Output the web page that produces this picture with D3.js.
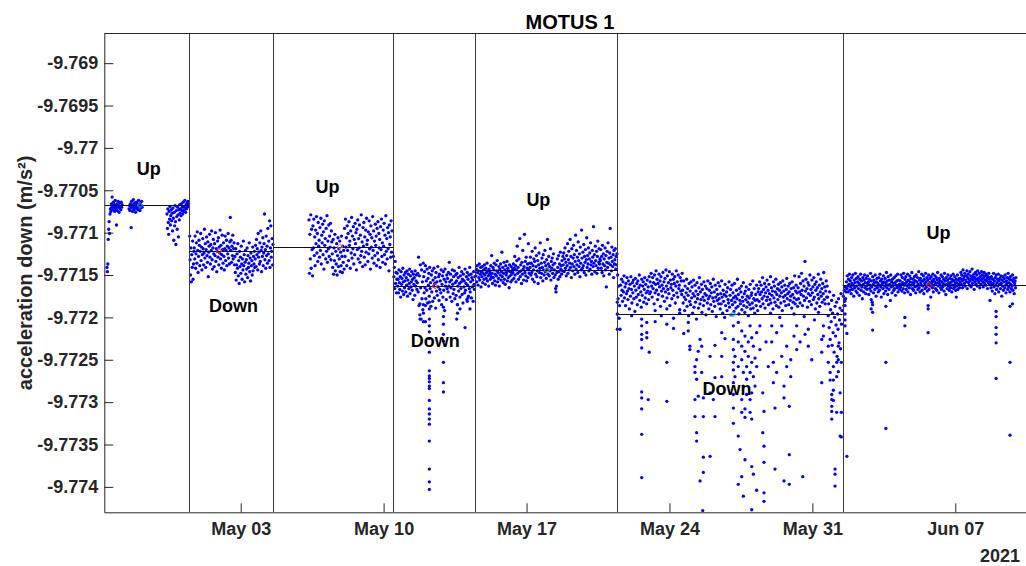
<!DOCTYPE html>
<html><head><meta charset="utf-8">
<script src="https://cdn.jsdelivr.net/npm/d3@7"></script>
<style>
body{margin:0;background:#fff;}
svg{display:block;font-family:"Liberation Sans",Arial,Helvetica,sans-serif;}
</style>
</head><body>
<svg id="c" width="1026" height="566"></svg>
<script>
// ---------------- DATA ----------------
// time in days relative to 2021-05-01 00:00 UTC; values stored as n = offset below -9.77 in 1e-5 m/s^2
const chartTitle = "MOTUS 1";
const yAxisLabel = "acceleration down (m/s\u00B2)";
const yearLabel = "2021";
const xLimitDays = [-4.681, 40.463];
const yLimits = [-9.7743, -9.76865];
const yTicks = [-9.769, -9.7695, -9.77, -9.7705, -9.771, -9.7715, -9.772, -9.7725, -9.773, -9.7735, -9.774];
const yTickLabels = ["-9.769", "-9.7695", "-9.77", "-9.7705", "-9.771", "-9.7715", "-9.772", "-9.7725", "-9.773", "-9.7735", "-9.774"];
const xTickDates = ["2021-05-03", "2021-05-10", "2021-05-17", "2021-05-24", "2021-05-31", "2021-06-07"];

// segment boundaries (days) and orientation labels
const segBounds = [-4.681, -0.518, 3.597, 9.474, 13.476, 20.445, 31.485, 40.463];
const segLabels = ["Up", "Down", "Up", "Down", "Up", "Down", "Up"];
const segLabelDays = [-2.506, 1.646, 6.252, 11.53, 16.58, 25.82, 36.18];
const segLabelN = [32.2, 194, 53, 235.4, 69, 291, 108];
const segMeanN = [67.7, 121.6, 116.4, 163, 144.4, 196.4, 162.1];
const meanMarkerDays = [-2.93, 0.94, 6.86, 11.52, 17.0, 26.11, 35.71];
const meanMarkerColors = ["#22aadd", "#dd3333", "#cc8833", "#dd3333", "#55aa22", "#22aadd", "#dd3333"];

// continuous runs: [startDay, endDay]
const runSpans = [[-4.55, -3.81], [-3.47, -2.83], [-1.61, -0.55], [-0.50, 3.58], [5.345, 9.41], [9.48, 13.47], [13.52, 20.43], [20.46, 31.45], [31.52, 39.97]];

const seg1a = [141,146,137,108,96,87,101,78,72,75,66,70,58,68,73,64,71,67,75,62,69,72,91,66,74,70,63,68,76,65,71,69,73,64,70,67];
const seg1b = [72,68,74,66,70,94,63,71,75,67,61,69,73,65,70,76,68,64,71,66,73,69,62,70,67,74,65,71,68,63,70];
const seg1c = [78,95,72,88,102,75,84,69,91,80,73,86,77,98,71,83,109,76,92,68,87,114,74,81,96,70,79,105,73,85,67,77,72,80,66,74,70,78,64,75,69,73,62,71,76,67,72,65,70,63,68,66];
const seg2 = [104,132,150,118,158,126,141,110,155,137,122,
118,131,104,142,125,112,136,99,121,147,128,109,115,139,122,101,133,117,144,126,107,119,138,124,96,130,113,141,120,105,127,135,111,152,123,116,102,129,137,114,121,98,132,143,118,108,125,140,113,127,100,134,119,146,122,110,129,106,138,117,124,97,131,115,142,126,103,120,136,112,128,144,119,104,133,121,109,139,116,125,101,130,118,137,111,
82,121,109,135,116,127,103,131,119,112,138,
128,147,119,156,138,125,142,113,151,133,160,122,140,129,148,116,137,155,131,144,110,139,126,158,135,121,149,132,143,118,153,127,141,136,112,146,130,157,124,139,133,150,117,145,128,137,122,141,
131,115,140,108,126,119,144,101,129,123,137,112,134,98,121,146,117,128,106,139,124,113,78,132,120,142,104,127,116,136,95,125,110,133,86,141,118,92,129,122,107,138,114];
const seg3 = [85,148,102,131,79,142,96,120,151,
92,118,84,127,105,139,97,113,81,124,101,134,88,116,109,129,94,121,83,137,103,112,90,126,99,143,86,115,107,131,95,122,80,135,110,119,91,128,104,117,89,132,98,111,
125,141,108,149,118,133,102,145,122,137,113,150,127,106,140,119,131,110,146,123,139,104,128,147,116,135,121,143,
95,128,84,117,106,139,92,121,101,133,87,115,110,142,98,124,82,130,104,119,93,137,108,126,89,113,100,144,96,120,85,131,107,118,91,135,103,127,79,122,111,140,94,116,88,129,105,138,97,123,83,114,109,134,99,125,86,119,102,143,92,117,106,130,81,121,98,136,110,127,90,115,104,139,95,124,87,132,101,118,108,141,93,120,84,128,112,135,97,116,89,126,103,137,80,122,107,131,94,119,100,145,91,114,105,129,86,123,98];
const seg4 = [128,152,141,166,134,160,147,171,155,
148,163,155,171,144,159,167,152,176,146,161,154,169,142,158,173,150,165,157,147,170,153,162,145,175,156,149,166,160,143,172,151,164,158,146,168,155,179,149,161,153,174,145,163,157,150,167,159,148,170,
129,186,151,197,138,165,202,144,178,158,191,136,
152,171,146,165,139,178,157,168,143,183,154,162,148,175,141,166,159,187,150,170,145,181,156,163,142,177,160,153,189,147,169,158,174,140,164,152,180,149,167,157,171,144,185,161,151,176,146,168,155,192,143,163,158,179,150,166,
154,170,147,163,135,158,176,149,165,156,181,144,161,172,152,167,145,178,159,150,174,157,148,185,163,153,169,141,160,176,151,166,158,146,173,155,183,149,164,157,171,143,168,160,152,179,147,162,155,175,150,166,141,170,158,149,177,153,164,156,181,146,161,167,152];
const seg5 = [151,143,158,139,147,162,145,153,137,156,149,141,164,146,152,140,159,148,144,155,138,150,161,142,154,147,136,157,145,151,163,143,149,
146,155,139,152,127,148,160,141,153,144,136,157,149,162,138,151,145,133,158,147,154,140,163,143,150,137,156,146,123,152,141,159,148,135,155,144,161,139,150,147,134,157,142,153,145,165,138,151,146,158,140,149,156,143,
147,137,154,142,128,150,139,158,144,133,116,148,141,155,131,146,107,152,138,145,160,135,149,121,143,156,140,102,147,134,151,129,157,142,137,153,113,144,148,136,
141,129,150,136,147,122,155,139,144,131,158,134,118,149,140,127,152,145,133,160,138,124,147,142,112,153,136,148,130,141,157,126,144,150,135,121,146,139,154,132,143,108,149,137,128,151,140,145,119,156,134,142,130,148,138,125,153,144,136,150,166,170,163,147,131,141,155,127,146,137,152,123,143,139,149,133,145,128,
138,124,146,131,118,142,135,151,127,139,113,148,132,122,144,136,108,141,128,153,119,137,145,130,115,140,126,149,134,103,143,121,138,129,147,111,133,140,125,152,117,136,144,97,130,142,123,139,114,147,128,135,120,150,132,106,141,127,137,118,145,131,124,143,112,138,134,149,121,129,140,93,136,126,146,116,133,139,122,148,128,110,142,135,119,137,131,
133,120,142,128,147,115,137,125,151,131,139,118,144,127,164,135,122,141,112,136,130,149,124,95,138,129,145,117,134,140,126,153,121,137,132,119,143,128,138,125];
const seg6 = [150,178,163,201,186,214,
162,174,155,168,181,158,170,151,177,164,186,160,172,153,169,179,157,166,190,161,175,152,167,183,159,171,156,178,163,193,154,168,176,160,185,157,173,165,150,180,162,170,188,155,174,163,158,182,167,153,177,161,171,184,156,169,164,179,152,172,
158,170,148,163,176,153,166,159,184,150,171,161,145,168,155,179,160,173,149,164,157,187,152,169,162,175,147,166,158,181,154,170,144,163,177,151,167,159,172,146,186,156,165,161,178,149,168,155,174,160,152,183,163,145,171,158,176,150,166,162,191,153,169,157,173,148,
168,183,157,176,192,163,179,171,155,187,166,174,198,160,181,169,185,158,177,164,195,172,156,188,175,162,182,169,202,159,178,173,189,165,153,184,170,179,161,194,167,176,186,158,180,172,163,197,174,166,183,157,178,190,168,175,160,185,171,164,193,177,155,181,170,187,162,176,199,167,180,173,159,184,
178,163,190,172,184,157,176,195,168,181,173,200,161,186,175,170,192,165,179,183,158,188,174,167,197,180,162,185,171,177,193,160,182,175,189,168,178,155,187,173,196,166,180,184,170,163,191,176,181,159,186,172,194,169,179,164,188,175,182,198,167,177,185,161,190,174,171,183,157,189,178,166,195,180,173,186,162,179,192,170,
166,181,158,173,187,162,170,178,153,184,167,175,160,189,171,164,180,156,176,168,185,161,172,179,152,183,165,174,169,190,158,177,163,182,170,155,186,173,166,179,161,188,168,175,159,183,171,164,192,157,176,169,181,162,174,186,167,154,178,172,163,185,170,160,180,175,166,189,158,173,182,165,177,151,184,169,162,179,171,187,
165,178,152,170,183,160,173,148,168,186,157,175,163,180,134,169,155,177,166,188,159,172,162,181,150,174,167,185,156,171,164,179,153,176,161,190,168,158,183,165,173,149,178,162,187,170,155,175,166,182,160,172,147,179,164,184,169,157,176,163,
176,198,184,212,170,226,191,205,180,233,195,218,174,241,200,187,222,209,182,246,196,214,178,230,203,189,237,172,208,192];
const seg7 = [175,186,168,181,164,178,170,
158,166,151,163,170,155,161,149,168,157,164,172,153,160,167,150,162,175,156,165,159,148,169,154,163,171,158,152,166,160,174,155,162,149,168,157,164,178,153,161,170,156,150,165,159,172,154,163,167,151,160,158,173,155,166,162,148,169,157,164,182,152,161,171,156,159,167,150,163,175,158,154,165,160,170,153,162,168,149,157,164,176,155,161,159,166,151,172,158,163,154,169,160,147,165,157,173,152,162,167,156,161,180,150,164,158,171,155,163,160,168,153,166,159,174,151,162,157,165,149,170,156,163,161,167,
157,164,150,161,169,153,159,166,148,162,171,155,160,152,167,158,163,149,170,156,161,165,151,158,173,154,162,147,166,159,155,168,160,152,164,157,171,150,163,158,153,167,161,146,165,156,170,154,159,162,149,168,157,163,151,172,155,160,166,148,158,164,153,169,156,161,150,167,159,154,163,176,152,160,157,165,149,170,155,162,158,151,166,160,153,168,156,147,163,159,171,154,161,157,165,150,167,158,152,164,160,155,169,148,162,157,173,153,161,166,156,150,163,159,168,154,160,165,151,158,170,155,162,149,166,157,164,152,160,168,155,159,163,150,167,156,161,154,165,158,
154,147,161,150,157,165,144,155,152,160,148,163,156,151,158,145,166,153,149,159,155,162,146,157,151,164,154,143,160,152,156,149,167,153,158,147,161,155,150,163,145,157,154,159,148,165,152,156,161,146,155,150,158,164,153,147,160,156,151,162,149,157,154,166,152,159,148,155,161,153,
158,165,152,161,169,155,160,148,164,157,172,153,162,150,167,159,155,163,149,170,157,161,154,166,151,160,175,156,163,152,168,158,154,165,150,162,171,157,160,153,167,148,164,159,155,170,152,161,166,156,163,150,168,158,154,172,160,157,165,153];

// isolated readings: [day, n1, n2, ...]
const seg4Spikes = [[10.78,184,202],[10.95,185,195,205],[11.05,186,205],
[11.24,182,190,202,210,217,225,241,263,269,272,276,281,284,298,308,314,320,326,346,379,394,403],
[11.93,188,199,208,220,228,253,277,288],[12.58,202],[12.62,185,195],[12.74,190],[12.99,212],[13.1,181],[13.13,177],[13.23,190]];
const seg6Spikes = [[20.445,182,196,214],[21.15,198],[21.64,202,210,220,226,236,288,295,308,338,389],[21.89,206,218,224],[21.96,297],[22.01,241],
[22.3,192,205],[22.6,198],[22.87,190,208,253,299],[23.2,201,213],[23.5,195],[23.7,219],[23.92,206,216],[24.0,234,238],
[24.25,258,265,297,317],[24.33,250,273,336,346],[24.41,240,293],[24.5,226,393],[24.58,234,265],[24.63,428],[24.66,295,317,365,383],
[24.99,246,289,364],[25.15,297],[25.23,233,271,317],[25.56,218,246,270],[25.72,225],
[26.13,210,226,238,253,262,277,291,307,325],[26.21,246,270],[26.37,206,229,258,340,397],[26.46,356],[26.54,216,234,250,297,312,388],
[26.62,265,281,411],[26.70,222,240,308,318,368],[26.78,258,273,291],[26.86,229,246],[26.95,210,265,297,312],[27.03,224,253,289,320,376,427],
[27.11,234,270,385],[27.19,248,281],[27.27,218,258,404],[27.43,210,238],[27.57,289,336],[27.63,311,352,371,407,417],[27.73,229],[27.84,258],
[27.95,195],[28.01,210,229],[28.09,253,277],[28.17,307,379],[28.25,218,265],[28.4,200],[28.50,210,246],[28.61,281,295,393],[28.74,234,258],
[28.87,305,362,397],[28.94,250,270],[29.1,196,222],[29.23,210,238],[29.40,229],[29.53,388],[29.6,199],[29.64,220],[29.80,214,234],[29.97,250],
[30.1,203],[30.3,194],[30.46,226,241,277],[30.54,210,222],[30.78,234,253],[30.87,265,274],[30.95,291,297,305,311,320],[31.03,258,274,286,298],
[31.11,379,385,399],[31.19,253,270,312],[31.27,234,250,264],[31.36,289,340],[31.42,253,312,341]];
const seg7Spikes = [[31.60,179,186,196,203,210],[31.69,219,364],[32.88,179,190],[32.95,185,194,215],[33.60,187,253,331],[34.53,200,210],
[35.67,186,190,218],[37.05,176],[38.7,180],[39.0,193,199,212,220,230,272],[39.68,187,253,339],[39.8,184]];

// ---------------- CHART ----------------
const runValues = [seg1a, seg1b, seg1c, seg2, seg3, seg4, seg5, seg6, seg7];
const spikeSets = [seg4Spikes, seg6Spikes, seg7Spikes];

const svg = d3.select("#c");
const M = {l: 104.3, t: 33.5, r: 1026, b: 512.3};
const day0 = Date.UTC(2021, 4, 1);
const toDate = d => new Date(day0 + d * 864e5);
const val = n => -9.77 - n * 1e-5;
const axisColor = "#262626";

const x = d3.scaleUtc().domain(xLimitDays.map(toDate)).range([M.l, M.r]);
const y = d3.scaleLinear().domain(yLimits).range([M.b, M.t]);

const points = [];
runValues.forEach((vals, k) => {
  const [a, b] = runSpans[k];
  vals.forEach((n, i) => points.push([a + (b - a) * i / (vals.length - 1), val(n)]));
});
spikeSets.forEach(set => set.forEach(col => col.slice(1).forEach(n => points.push([col[0], val(n)]))));

svg.append("clipPath").attr("id", "plot").append("rect")
  .attr("x", M.l).attr("y", M.t).attr("width", M.r - M.l).attr("height", M.b - M.t);

const plot = svg.append("g").attr("clip-path", "url(#plot)");

plot.append("g").selectAll("circle").data(points).join("circle")
  .attr("cx", d => x(toDate(d[0]))).attr("cy", d => y(d[1]))
  .attr("r", 1.65).attr("fill", "#0000ff");

// segment boundaries
plot.append("g").selectAll("line").data(segBounds.slice(1, -1)).join("line")
  .attr("x1", d => Math.round(x(toDate(d))) + 0.5).attr("x2", d => Math.round(x(toDate(d))) + 0.5)
  .attr("y1", M.t).attr("y2", M.b).attr("stroke", "#3a3a3a").attr("stroke-width", 1);

// segment means
plot.append("g").selectAll("line").data(segMeanN).join("line")
  .attr("x1", (d, i) => x(toDate(segBounds[i]))).attr("x2", (d, i) => x(toDate(segBounds[i + 1])))
  .attr("y1", d => Math.round(y(val(d))) + 0.5).attr("y2", d => Math.round(y(val(d))) + 0.5)
  .attr("stroke", "#111").attr("stroke-width", 1);

// mean markers
plot.append("g").selectAll("path").data(segMeanN).join("path")
  .attr("d", d3.symbol(d3.symbolCross, 14))
  .attr("transform", (d, i) => `translate(${x(toDate(meanMarkerDays[i]))},${y(val(d))})`)
  .attr("fill", "none").attr("stroke", (d, i) => meanMarkerColors[i]).attr("stroke-width", 0.8);

// top border
svg.append("line").attr("x1", M.l).attr("x2", M.r).attr("y1", M.t).attr("y2", M.t)
  .attr("stroke", axisColor).attr("stroke-width", 1);

// axes
const gy = svg.append("g").attr("transform", `translate(${M.l},0)`)
  .call(d3.axisLeft(y).tickValues(yTicks).tickFormat((d, i) => yTickLabels[i])
    .tickSizeInner(-9).tickSizeOuter(0).tickPadding(6));
const gx = svg.append("g").attr("transform", `translate(0,${M.b})`)
  .call(d3.axisBottom(x).tickValues(xTickDates.map(s => new Date(s + "T00:00:00Z")))
    .tickFormat(d3.utcFormat("%b %d")).tickSizeInner(-9).tickSizeOuter(0).tickPadding(10));
[gx, gy].forEach(g => {
  g.select(".domain").attr("stroke", axisColor);
  g.selectAll(".tick line").attr("stroke", axisColor);
  g.selectAll(".tick text").attr("fill", axisColor)
    .style("font-size", "18px").style("font-weight", "bold")
    .style("font-family", '"Liberation Sans", Arial, sans-serif');
});

svg.append("text").attr("x", 1020).attr("y", 562).attr("text-anchor", "end")
  .attr("fill", axisColor).style("font-size", "18px").style("font-weight", "bold").text(yearLabel);

svg.append("text").attr("x", 570).attr("y", 29).attr("text-anchor", "middle")
  .attr("fill", "#000").style("font-size", "20px").style("font-weight", "bold").text(chartTitle);

svg.append("text").attr("transform", "translate(32,272.9) rotate(-90)").attr("text-anchor", "middle")
  .attr("fill", axisColor).style("font-size", "20px").style("font-weight", "bold").text(yAxisLabel);

// orientation labels
svg.append("g").selectAll("text").data(segLabels).join("text")
  .attr("x", (d, i) => x(toDate(segLabelDays[i]))).attr("y", (d, i) => y(val(segLabelN[i])))
  .attr("text-anchor", "middle").attr("fill", "#000")
  .style("font-size", "18px").style("font-weight", "bold").text(d => d);
</script>
</body></html>
